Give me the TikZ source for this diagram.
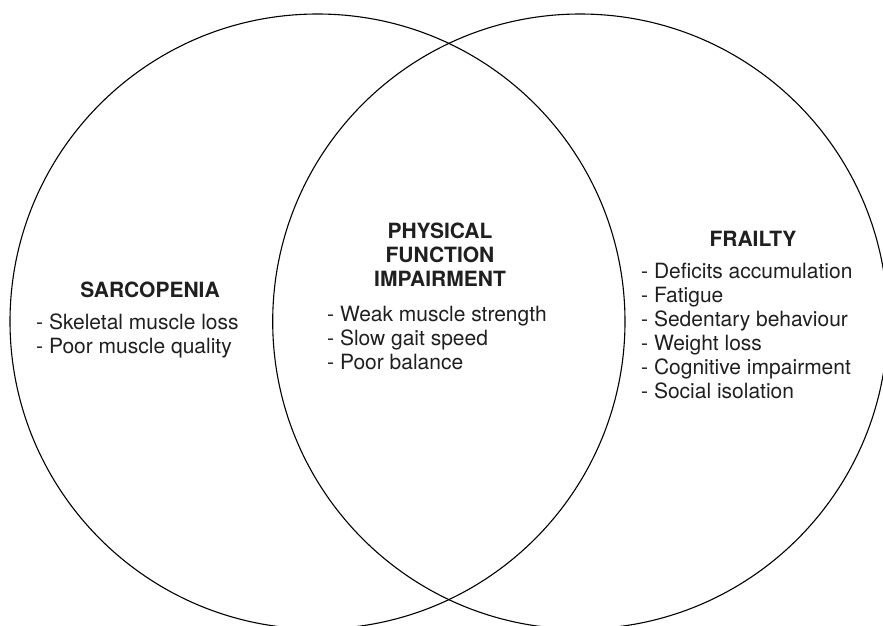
\documentclass[tikz,border=0pt]{standalone}
\usepackage{fontspec}
\setmainfont{TeX Gyre Heros}
\begin{document}
\begin{tikzpicture}[x=1pt,y=-1pt,
  ring/.style={draw=black, line width=1.1pt},
  head/.style={anchor=base, inner sep=0pt, font=\fontsize{21}{24}\selectfont\bfseries, text=black!88},
  item/.style={anchor=base west, inner sep=0pt, font=\fontsize{21}{24}\selectfont, text=black!88}]
  \useasboundingbox (0,0) rectangle (883,625);
  \clip (0,0) rectangle (883,625);

  % the two overlapping sets
  \draw[ring] (317.5,321.5) circle (307.5pt);
  \draw[ring] (580.2,321.5) circle (307.5pt);

  % left set
  \node[head] (sarc) at (150,297.7) {SARCOPENIA};
  \node[item] (sarc1) at (36,329.5) {- Skeletal muscle loss};
  \node[item] (sarc2) at (36,353.2) {- Poor muscle quality};

  % overlap
  \node[head] (pf1) at (440,238.5) {PHYSICAL};
  \node[head] (pf2) at (440,262.5) {FUNCTION};
  \node[head] (pf3) at (440,286.5) {IMPAIRMENT};
  \node[item] (pfa) at (327,321.7) {- Weak muscle strength};
  \node[item] (pfb) at (327,345.6) {- Slow gait speed};
  \node[item] (pfc) at (327,369.5) {- Poor balance};

  % right set
  \node[head] (frail) at (753,246.7) {FRAILTY};
  \foreach \t [count=\i from 0] in {Deficits accumulation, Fatigue, Sedentary behaviour, Weight loss, Cognitive impairment, Social isolation}
    \node[item] (fr\i) at (641,278.3+24*\i) {- \t};
\end{tikzpicture}
\end{document}
